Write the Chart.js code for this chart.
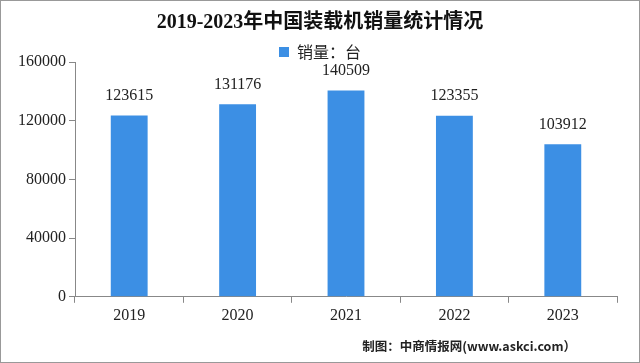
<!DOCTYPE html>
<html>
<head>
<meta charset="utf-8">
<script src="https://cdn.jsdelivr.net/npm/chart.js@4.4.0/dist/chart.umd.min.js"></script>
<style>
  body { margin: 0; background: #fff; }
  #wrap { width: 640px; height: 363px; }
</style>
</head>
<body>
<div id="wrap"><canvas id="sales-chart"></canvas></div>
<script>
// chart data
const years = ['2019', '2020', '2021', '2022', '2023'];
const sales = [123615, 131176, 140509, 123355, 103912];
const yTicks = [0, 40000, 80000, 120000, 160000];

const numFont = '"Liberation Serif", "Noto Sans CJK SC", serif';
const cnFont = '"Noto Sans CJK SC", sans-serif';

// labels on top of each bar
const barLabels = {
    id: 'barLabels',
    afterDatasetsDraw(chart) {
        const ctx = chart.ctx;
        const meta = chart.getDatasetMeta(0);
        ctx.save();
        ctx.font = '16px ' + numFont;
        ctx.fillStyle = '#222';
        ctx.textAlign = 'center';
        ctx.textBaseline = 'middle';
        meta.data.forEach((bar, i) => {
            ctx.fillText(sales[i], bar.x, bar.y - 20);
        });
        ctx.restore();
    }
};

// footer note and frame
const frame = {
    id: 'frame',
    afterDraw(chart) {
        const ctx = chart.ctx;
        ctx.save();
        ctx.font = 'bold 12.5px ' + cnFont;
        ctx.fillStyle = '#222';
        ctx.textAlign = 'right';
        ctx.textBaseline = 'middle';
        ctx.fillText('制图：中商情报网(www.askci.com）', 576, 346);
        ctx.strokeStyle = '#999';
        ctx.lineWidth = 1;
        ctx.strokeRect(0.5, 0.5, chart.width - 1, chart.height - 1);
        ctx.restore();
    }
};

const ctx = document.getElementById('sales-chart').getContext('2d');
const myChart = new Chart(ctx, {
    type: 'bar',
    data: {
        labels: years,
        datasets: [{
            label: '销量：台',
            data: sales,
            backgroundColor: '#3c8fe4',
            barPercentage: 0.34,
            categoryPercentage: 1
        }]
    },
    options: {
        responsive: true,
        maintainAspectRatio: false,
        animation: false,
        layout: {
            padding: { left: 0, right: 0, top: 0, bottom: 35 }
        },
        plugins: {
            title: {
                display: true,
                text: '2019-2023年中国装载机销量统计情况',
                color: '#111',
                font: { size: 20, weight: 'bold', family: numFont },
                padding: { top: 11, bottom: 3 }
            },
            legend: {
                display: true,
                position: 'top',
                maxHeight: 24,
                labels: {
                    boxWidth: 10,
                    boxHeight: 10,
                    color: '#222',
                    padding: 6,
                    font: { size: 16, family: cnFont }
                }
            },
            tooltip: { enabled: false }
        },
        scales: {
            x: {
                grid: {
                    drawOnChartArea: false,
                    color: '#888',
                    tickLength: 6
                },
                border: { color: '#888' },
                ticks: {
                    color: '#222',
                    padding: 3,
                    font: { size: 16, family: numFont }
                }
            },
            y: {
                min: 0,
                max: 160000,
                afterFit(scale) { scale.width = 75; },
                afterBuildTicks(scale) {
                    scale.ticks = yTicks.map(v => ({ value: v }));
                },
                grid: {
                    drawOnChartArea: false,
                    color: '#888',
                    tickLength: 6
                },
                border: { color: '#888' },
                ticks: {
                    color: '#222',
                    padding: 3,
                    font: { size: 16, family: numFont },
                    callback: v => v
                }
            },
            // empty right margin so the title stays centred on the page
            yRight: {
                position: 'right',
                display: true,
                afterFit(scale) { scale.width = 23; },
                grid: { display: false },
                border: { display: false },
                ticks: { display: false }
            }
        }
    },
    plugins: [barLabels, frame]
});
</script>
</body>
</html>
